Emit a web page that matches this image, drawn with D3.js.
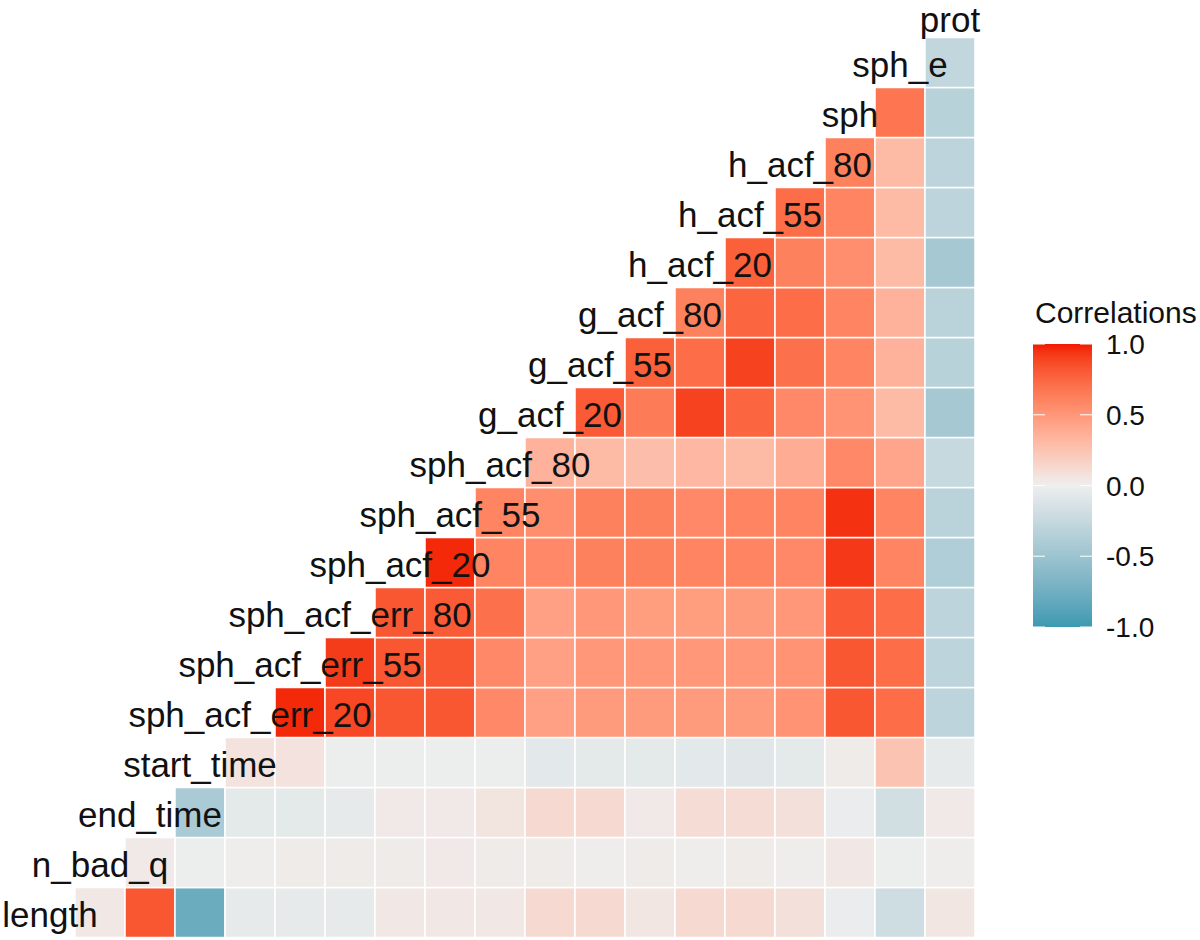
<!DOCTYPE html>
<html>
<head>
<meta charset="utf-8">
<script src="https://cdn.jsdelivr.net/npm/d3@7"></script>
<style>
  html, body { margin: 0; padding: 0; background: #fff; }
  svg { display: block; }
  text { font-family: "Liberation Sans", Arial, Helvetica, sans-serif; }
</style>
</head>
<body>
<svg id="chart" width="1200" height="940"></svg>
<script>
// Variables, ordered from the bottom row (and left column) upwards
const variables = ["length","n_bad_q","end_time","start_time","sph_acf_err_20","sph_acf_err_55",
  "sph_acf_err_80","sph_acf_20","sph_acf_55","sph_acf_80","g_acf_20","g_acf_55","g_acf_80",
  "h_acf_20","h_acf_55","h_acf_80","sph","sph_e","prot"];

// Correlations of each variable with every variable that follows it in the list
const corrLength       = [0.04, 0.82, -0.78, -0.05, -0.05, -0.05, 0.04, 0.04, 0.04, 0.12, 0.12, 0.05, 0.12, 0.12, 0.08, -0.02, -0.2, 0.05];
const corrNBadQ        = [0.03, -0.01, 0.01, 0.02, 0.02, 0.02, 0.03, 0.02, 0.02, 0.01, 0.02, 0.01, 0.02, 0.01, 0.04, -0.01, 0.01];
const corrEndTime      = [-0.42, -0.06, -0.06, -0.05, 0.03, 0.03, 0.06, 0.12, 0.12, 0.03, 0.1, 0.1, 0.08, -0.02, -0.18, 0.03];
const corrStartTime    = [0.07, 0.07, -0.01, -0.01, -0.01, -0.01, -0.07, -0.06, -0.06, -0.07, -0.08, -0.06, 0.02, 0.25, -0.05];
const corrSphAcfErr20  = [0.97, 0.88, 0.82, 0.82, 0.58, 0.45, 0.48, 0.48, 0.48, 0.48, 0.52, 0.82, 0.72, -0.3];
const corrSphAcfErr55  = [0.92, 0.82, 0.82, 0.58, 0.45, 0.5, 0.5, 0.5, 0.5, 0.52, 0.82, 0.72, -0.3];
const corrSphAcfErr80  = [0.82, 0.8, 0.7, 0.45, 0.5, 0.47, 0.47, 0.48, 0.5, 0.8, 0.72, -0.3];
const corrSphAcf20     = [0.97, 0.6, 0.58, 0.62, 0.62, 0.6, 0.6, 0.58, 0.93, 0.6, -0.38];
const corrSphAcf55     = [0.6, 0.55, 0.62, 0.62, 0.58, 0.6, 0.6, 0.95, 0.6, -0.32];
const corrSphAcf80     = [0.35, 0.3, 0.28, 0.32, 0.3, 0.38, 0.58, 0.42, -0.25];
const corrGAcf20       = [0.8, 0.65, 0.9, 0.75, 0.58, 0.52, 0.3, -0.45];
const corrGAcf55       = [0.78, 0.72, 0.9, 0.7, 0.6, 0.35, -0.33];
const corrGAcf80       = [0.62, 0.75, 0.72, 0.6, 0.35, -0.32];
const corrHAcf20       = [0.78, 0.62, 0.55, 0.3, -0.45];
const corrHAcf55       = [0.72, 0.6, 0.3, -0.3];
const corrHAcf80       = [0.62, 0.3, -0.3];
const corrSph          = [0.68, -0.33];
const corrSphE         = [-0.28];

const legendTitle = "Correlations";
const legendTicks = [1.0, 0.5, 0.0, -0.5, -1.0];

const rowsByVar = [corrLength, corrNBadQ, corrEndTime, corrStartTime, corrSphAcfErr20, corrSphAcfErr55,
  corrSphAcfErr80, corrSphAcf20, corrSphAcf55, corrSphAcf80, corrGAcf20, corrGAcf55, corrGAcf80,
  corrHAcf20, corrHAcf55, corrHAcf80, corrSph, corrSphE];

const cells = [];
rowsByVar.forEach((vals, r) => {
  vals.forEach((v, k) => {
    cells.push({ row: variables[r], col: variables[r + 1 + k], value: v });
  });
});

const svg = d3.select("#chart");

const x = d3.scaleBand().domain(variables).range([25, 975]).padding(0);
const y = d3.scaleBand().domain(variables).range([937.5, -12.5]).padding(0);

const color = d3.scaleLinear()
  .domain([-1, 0, 1])
  .range(["#3B9AB2", "#EEEEEE", "#F21A00"])
  .interpolate(d3.interpolateLab);

// tiles
svg.append("g")
  .selectAll("rect")
  .data(cells)
  .join("rect")
  .attr("x", d => x(d.col))
  .attr("y", d => y(d.row))
  .attr("width", x.bandwidth())
  .attr("height", y.bandwidth())
  .attr("fill", d => color(d.value))
  .attr("stroke", "#ffffff")
  .attr("stroke-width", 1.5);

// diagonal labels
const fs = 35;
svg.append("g")
  .selectAll("text")
  .data(variables)
  .join("text")
  .attr("x", d => x(d) + x.bandwidth() / 2)
  .attr("y", d => {
    const base = y(d) + y.bandwidth() / 2 + fs * 0.4;
    return Math.max(base, 32);
  })
  .attr("text-anchor", "middle")
  .attr("font-size", fs)
  .attr("fill", "#111111")
  .text(d => d);

// legend
const barX = 1033, barW = 59;
const ly = d3.scaleLinear().domain([1, -1]).range([344, 627]);

const defs = svg.append("defs");
const grad = defs.append("linearGradient")
  .attr("id", "corrGrad")
  .attr("x1", 0).attr("y1", 0).attr("x2", 0).attr("y2", 1);
d3.range(0, 41).forEach(i => {
  const t = i / 40;
  grad.append("stop")
    .attr("offset", t)
    .attr("stop-color", color(1 - 2 * t));
});

const lg = svg.append("g");
lg.append("text")
  .attr("x", 1035)
  .attr("y", 323)
  .attr("font-size", 30)
  .attr("fill", "#111111")
  .text(legendTitle);

lg.append("rect")
  .attr("x", barX)
  .attr("y", ly(1))
  .attr("width", barW)
  .attr("height", ly(-1) - ly(1))
  .attr("fill", "url(#corrGrad)");

const tickLen = 12;
legendTicks.forEach(t => {
  lg.append("line")
    .attr("x1", barX).attr("x2", barX + tickLen)
    .attr("y1", ly(t)).attr("y2", ly(t))
    .attr("stroke", "#ffffff").attr("stroke-width", 1.2).attr("opacity", 0.85);
  lg.append("line")
    .attr("x1", barX + barW - tickLen).attr("x2", barX + barW)
    .attr("y1", ly(t)).attr("y2", ly(t))
    .attr("stroke", "#ffffff").attr("stroke-width", 1.2).attr("opacity", 0.85);
});

lg.selectAll("text.tick")
  .data(legendTicks)
  .join("text")
  .attr("class", "tick")
  .attr("x", 1106)
  .attr("y", d => ly(d) + 28 * 0.36)
  .attr("font-size", 28)
  .attr("fill", "#111111")
  .text(d => d3.format(".1f")(d).replace("−", "-"));
</script>
</body>
</html>
